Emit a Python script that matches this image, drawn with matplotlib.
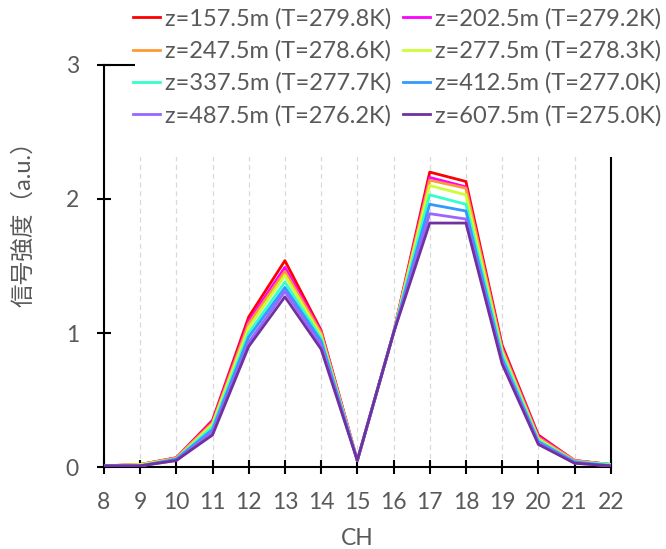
import matplotlib
matplotlib.use("Agg")
import matplotlib.pyplot as plt
from matplotlib.patches import Rectangle

plt.rcParams['font.family'] = ['Lato', 'Noto Sans CJK JP', 'DejaVu Sans']

channels = list(range(8, 23))
labels = [
    "z=157.5m (T=279.8K)", "z=202.5m (T=279.2K)",
    "z=247.5m (T=278.6K)", "z=277.5m (T=278.3K)",
    "z=337.5m (T=277.7K)", "z=412.5m (T=277.0K)",
    "z=487.5m (T=276.2K)", "z=607.5m (T=275.0K)",
]
colors = ["#FF0000", "#FF00FF", "#FF9933", "#CCFF33",
          "#33FFCC", "#3399FF", "#9966FF", "#7030A0"]

s157 = [0.01, 0.02, 0.07, 0.35, 1.12, 1.54, 1.02, 0.05, 1.00, 2.20, 2.13, 0.91, 0.24, 0.05, 0.02]
s202 = [0.01, 0.02, 0.07, 0.34, 1.09, 1.49, 1.01, 0.05, 1.00, 2.16, 2.09, 0.89, 0.23, 0.05, 0.02]
s247 = [0.01, 0.02, 0.07, 0.33, 1.07, 1.46, 1.00, 0.05, 1.00, 2.14, 2.08, 0.88, 0.22, 0.05, 0.02]
s277 = [0.01, 0.02, 0.06, 0.32, 1.04, 1.43, 0.98, 0.05, 1.00, 2.10, 2.03, 0.86, 0.21, 0.04, 0.02]
s337 = [0.01, 0.01, 0.06, 0.30, 1.00, 1.38, 0.96, 0.05, 1.00, 2.03, 1.96, 0.84, 0.20, 0.04, 0.02]
s412 = [0.01, 0.01, 0.06, 0.28, 0.97, 1.34, 0.94, 0.05, 1.00, 1.96, 1.91, 0.81, 0.19, 0.04, 0.01]
s487 = [0.01, 0.01, 0.05, 0.26, 0.93, 1.31, 0.91, 0.05, 1.00, 1.89, 1.85, 0.79, 0.18, 0.03, 0.01]
s607 = [0.01, 0.01, 0.05, 0.24, 0.90, 1.27, 0.88, 0.05, 1.00, 1.82, 1.82, 0.77, 0.17, 0.03, 0.01]
series = [s157, s202, s247, s277, s337, s412, s487, s607]

gray = "#595959"

fig = plt.figure(figsize=(6.66, 5.49), dpi=100)
ax = fig.add_axes([0.156, 0.149, 0.761, 0.733])

handles = []
for vals, c, lab in zip(series, colors, labels):
    h, = ax.plot(channels, vals, color=c, lw=2, label=lab, zorder=3)
    handles.append(h)

ax.set_xlim(8, 22)
ax.set_ylim(0, 3)
ax.set_xticks(channels)
ax.set_yticks([0, 1, 2, 3])
ax.grid(axis='x', color='#D9D9D9', linestyle=(0, (4, 3)), lw=0.9)
ax.set_axisbelow(True)

for sp in ax.spines.values():
    sp.set_linewidth(1.5)
    sp.set_color('black')

ax.tick_params(direction='inout', length=10, width=1.5, color='black',
               labelcolor=gray, labelsize=16.5)
ax.tick_params(axis='x', pad=13)
ax.tick_params(axis='y', pad=13)

ax.set_xlabel("CH", color=gray, fontsize=16.5)
ax.xaxis.set_label_coords(0.5, -0.152)
ax.set_ylabel("信号強度（a.u.）", color=gray, fontsize=17)
ax.yaxis.set_label_coords(-0.137, 0.62)

# white legend area covering the upper part of the plot frame
fig.patches.append(Rectangle((0.203, 0.714), 0.797, 0.286,
                             transform=fig.transFigure, facecolor='white',
                             edgecolor='none', zorder=1))

# row-wise ordering for a 2-column legend
order = [0, 2, 4, 6, 1, 3, 5, 7]
leg = fig.legend([handles[i] for i in order], [labels[i] for i in order],
                 ncol=2, loc='upper right', bbox_to_anchor=(1.0, 0.9936),
                 frameon=False, fontsize=17, handlelength=1.15,
                 handletextpad=0.2, columnspacing=0.5, labelspacing=0.45,
                 borderpad=0.2, borderaxespad=0.0)
for t in leg.get_texts():
    t.set_color(gray)
leg.set_zorder(10)

fig.savefig("out.png", dpi=100)
